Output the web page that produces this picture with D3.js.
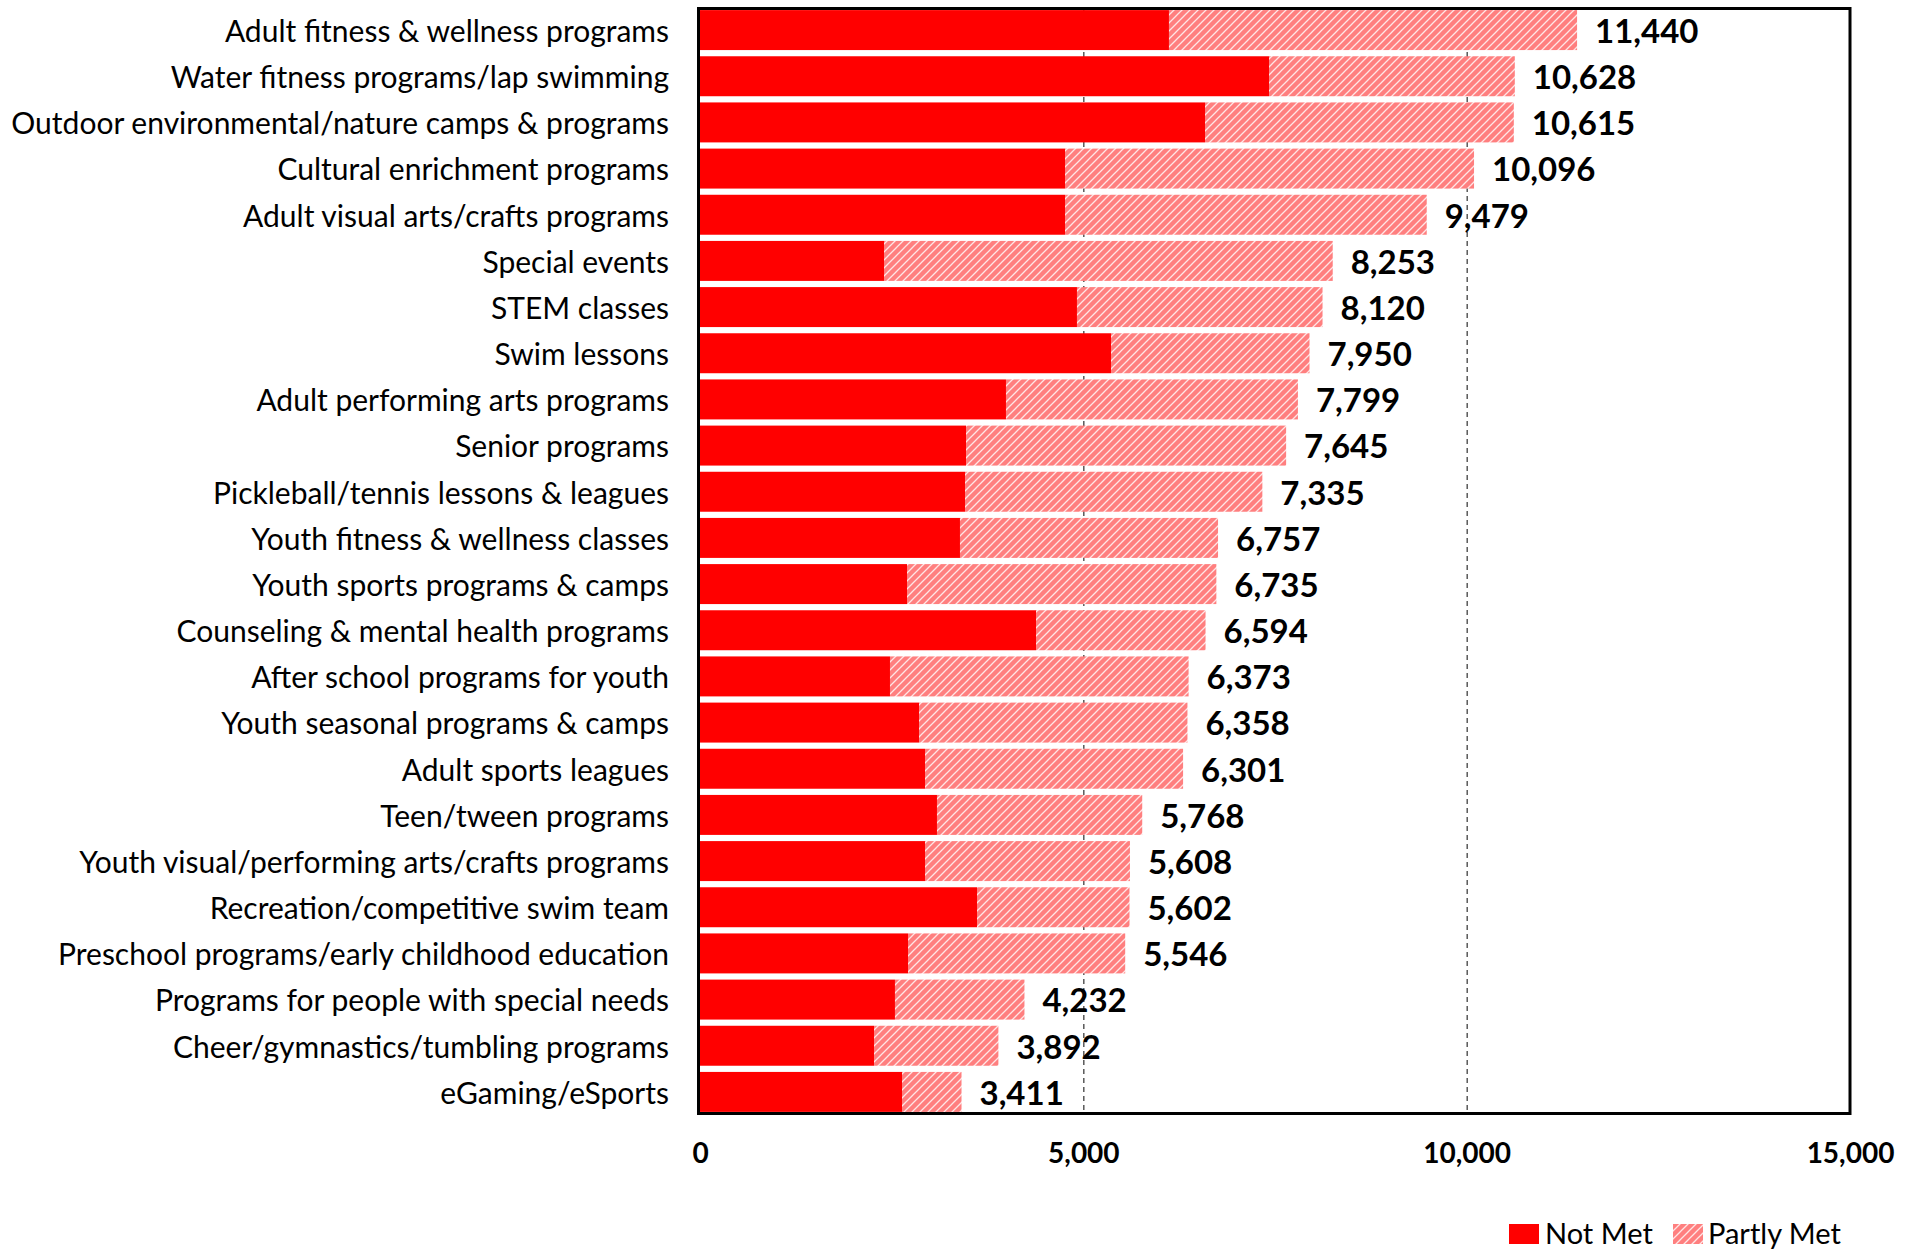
<!DOCTYPE html>
<html>
<head>
<meta charset="utf-8">
<script src="https://cdn.jsdelivr.net/npm/d3@7"></script>
<style>
  html, body { margin: 0; padding: 0; background: #fff; }
  svg { display: block; }
  text { font-family: Lato, "Open Sans", sans-serif; fill: #000; }
</style>
</head>
<body>
<svg id="chart" width="1917" height="1249"></svg>
<script>
const categories = [
  "Adult fitness & wellness programs",
  "Water fitness programs/lap swimming",
  "Outdoor environmental/nature camps & programs",
  "Cultural enrichment programs",
  "Adult visual arts/crafts programs",
  "Special events",
  "STEM classes",
  "Swim lessons",
  "Adult performing arts programs",
  "Senior programs",
  "Pickleball/tennis lessons & leagues",
  "Youth fitness & wellness classes",
  "Youth sports programs & camps",
  "Counseling & mental health programs",
  "After school programs for youth",
  "Youth seasonal programs & camps",
  "Adult sports leagues",
  "Teen/tween programs",
  "Youth visual/performing arts/crafts programs",
  "Recreation/competitive swim team",
  "Preschool programs/early childhood education",
  "Programs for people with special needs",
  "Cheer/gymnastics/tumbling programs",
  "eGaming/eSports"
];
const notMet = [6117, 7422, 6587, 4761, 4761, 2400, 4917, 5361, 3991, 3470, 3457, 3391,
                2700, 4383, 2478, 2857, 2935, 3091, 2935, 3613, 2713, 2543, 2270, 2635];
const partlyMet = [5323, 3206, 4028, 5335, 4718, 5853, 3203, 2589, 3808, 4175, 3878, 3366,
                   4035, 2211, 3895, 3501, 3366, 2677, 2673, 1989, 2833, 1689, 1622, 776];
const seriesNames = ["Not Met", "Partly Met"];
const xTicks = [0, 5000, 10000, 15000];
const xMax = 15000;

const svg = d3.select("#chart");
const plot = { left: 700, right: 1850, top: 7, bottom: 1115 };

const rows = categories.map((c, i) => ({ cat: c, notMet: notMet[i], partlyMet: partlyMet[i] }));
const stack = d3.stack().keys(["notMet", "partlyMet"])(rows);

const x = d3.scaleLinear().domain([0, xMax]).range([plot.left, plot.right]);
const y = d3.scaleBand().domain(categories).range([plot.top, plot.bottom])
  .paddingInner(0.134).paddingOuter(0.067);

// hatch pattern
const defs = svg.append("defs");
const pat = defs.append("pattern").attr("id", "hatch").attr("patternUnits", "userSpaceOnUse")
  .attr("width", 8).attr("height", 8);
pat.append("rect").attr("width", 8).attr("height", 8).attr("fill", "#ff7f7f");
pat.append("path").attr("d", "M-2,2 L2,-2 M0,8 L8,0 M6,10 L10,6")
  .attr("stroke", "#ffe6e6").attr("stroke-width", 1.3);

// gridlines
svg.append("g").selectAll("line").data(xTicks.filter(t => t > 0 && t < xMax)).join("line")
  .attr("x1", d => x(d) + 0.5).attr("x2", d => x(d) + 0.5)
  .attr("y1", plot.top).attr("y2", plot.bottom)
  .attr("stroke", "#303030").attr("stroke-width", 1.2).attr("stroke-dasharray", "5,4");

// bars
const fills = ["#ff0000", "url(#hatch)"];
svg.append("g").selectAll("g").data(stack).join("g")
  .attr("fill", (d, i) => fills[i])
  .selectAll("rect").data(d => d).join("rect")
  .attr("x", d => x(d[0])).attr("width", d => x(d[1]) - x(d[0]))
  .attr("y", d => y(d.data.cat)).attr("height", y.bandwidth());

// value labels (totals)
svg.append("g").selectAll("text").data(rows).join("text")
  .attr("x", d => x(d.notMet + d.partlyMet) + 18)
  .attr("y", d => y(d.cat) + y.bandwidth() / 2 + 1)
  .attr("dy", "0.36em")
  .attr("font-size", 33).attr("font-weight", "bold")
  .text(d => d3.format(",")(d.notMet + d.partlyMet));

// category labels
svg.append("g").selectAll("text").data(categories).join("text")
  .attr("x", 669).attr("y", d => y(d) + y.bandwidth() / 2 + 1)
  .attr("dy", "0.36em").attr("text-anchor", "end")
  .attr("font-size", 30)
  .text(d => d);

// frame
svg.append("rect").attr("x", plot.left - 1.5).attr("y", plot.top + 1.5)
  .attr("width", plot.right - plot.left + 1.5).attr("height", plot.bottom - plot.top - 3)
  .attr("fill", "none").attr("stroke", "#000").attr("stroke-width", 3);

// x axis tick labels
const xAxis = d3.axisBottom(x).tickValues(xTicks).tickSize(0).tickFormat(d3.format(","));
const ax = svg.append("g").attr("transform", `translate(0, ${1140})`).call(xAxis);
ax.select(".domain").remove();
ax.selectAll("text").attr("font-size", 28).attr("font-weight", "bold")
  .attr("font-family", "Lato, sans-serif").attr("fill", "#000").attr("dy", "0.71em");

// legend
const legend = svg.append("g");
const legendItems = [
  { name: seriesNames[0], fill: fills[0], sx: 1509, tx: 1545 },
  { name: seriesNames[1], fill: fills[1], sx: 1673, tx: 1708 }
];
legend.selectAll("rect").data(legendItems).join("rect")
  .attr("x", d => d.sx).attr("y", 1224).attr("width", 30).attr("height", 20)
  .attr("fill", d => d.fill);
legend.selectAll("text").data(legendItems).join("text")
  .attr("x", d => d.tx).attr("y", 1244).attr("font-size", 29)
  .text(d => d.name);
</script>
</body>
</html>
